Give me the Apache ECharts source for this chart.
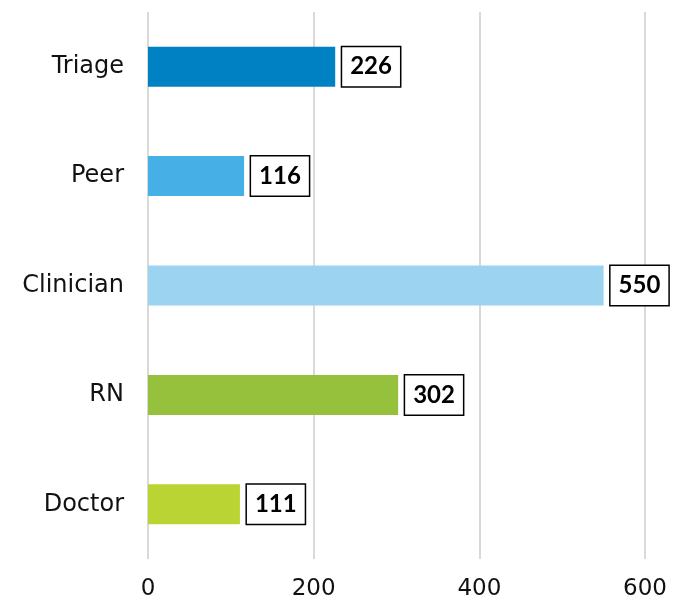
<!DOCTYPE html>
<html><head><meta charset="utf-8">
<script src="https://cdn.jsdelivr.net/npm/echarts@6/dist/echarts.min.js"></script>
<style>html,body{margin:0;padding:0;background:#fff}#c{width:686px;height:608px}</style>
</head><body><div id="c"></div>
<script>
const categories = ["Triage", "Peer", "Clinician", "RN", "Doctor"];
const values = [226, 116, 550, 302, 111];
const colors = ["#0081C3", "#45AFE6", "#9BD3F0", "#95C13D", "#BAD433"];
const xTicks = [0, 200, 400, 600];

const chart = echarts.init(document.getElementById('c'));
chart.setOption({
  animation: false,
  grid: { left: 148, right: 41, top: 12, bottom: 49, containLabel: false },
  xAxis: {
    type: 'value', min: 0, max: 600, interval: 200,
    axisLine: { show: false }, axisTick: { show: false },
    splitLine: { lineStyle: { color: '#d9d9d9', width: 2 } },
    axisLabel: { fontFamily: '"DejaVu Sans", sans-serif', fontSize: 23, color: '#111', margin: 19,
      formatter: v => xTicks.includes(v) ? String(v) : '' }
  },
  yAxis: {
    type: 'category', data: categories, inverse: true,
    axisLine: { show: false }, axisTick: { show: false },
    axisLabel: { fontFamily: '"DejaVu Sans", sans-serif', fontSize: 24, color: '#111', margin: 24 }
  },
  series: [{
    type: 'bar',
    barWidth: 40,
    data: values.map((v, i) => ({ value: v, itemStyle: { color: colors[i] } })),
    label: {
      show: true, position: 'right', distance: 7,
      fontFamily: 'Lato, sans-serif', fontWeight: 'bold', fontSize: 24, color: '#000',
      backgroundColor: '#fff', borderColor: '#000', borderWidth: 1.5,
      padding: [8, 8, 7, 8]
    }
  }]
});
</script></body></html>
